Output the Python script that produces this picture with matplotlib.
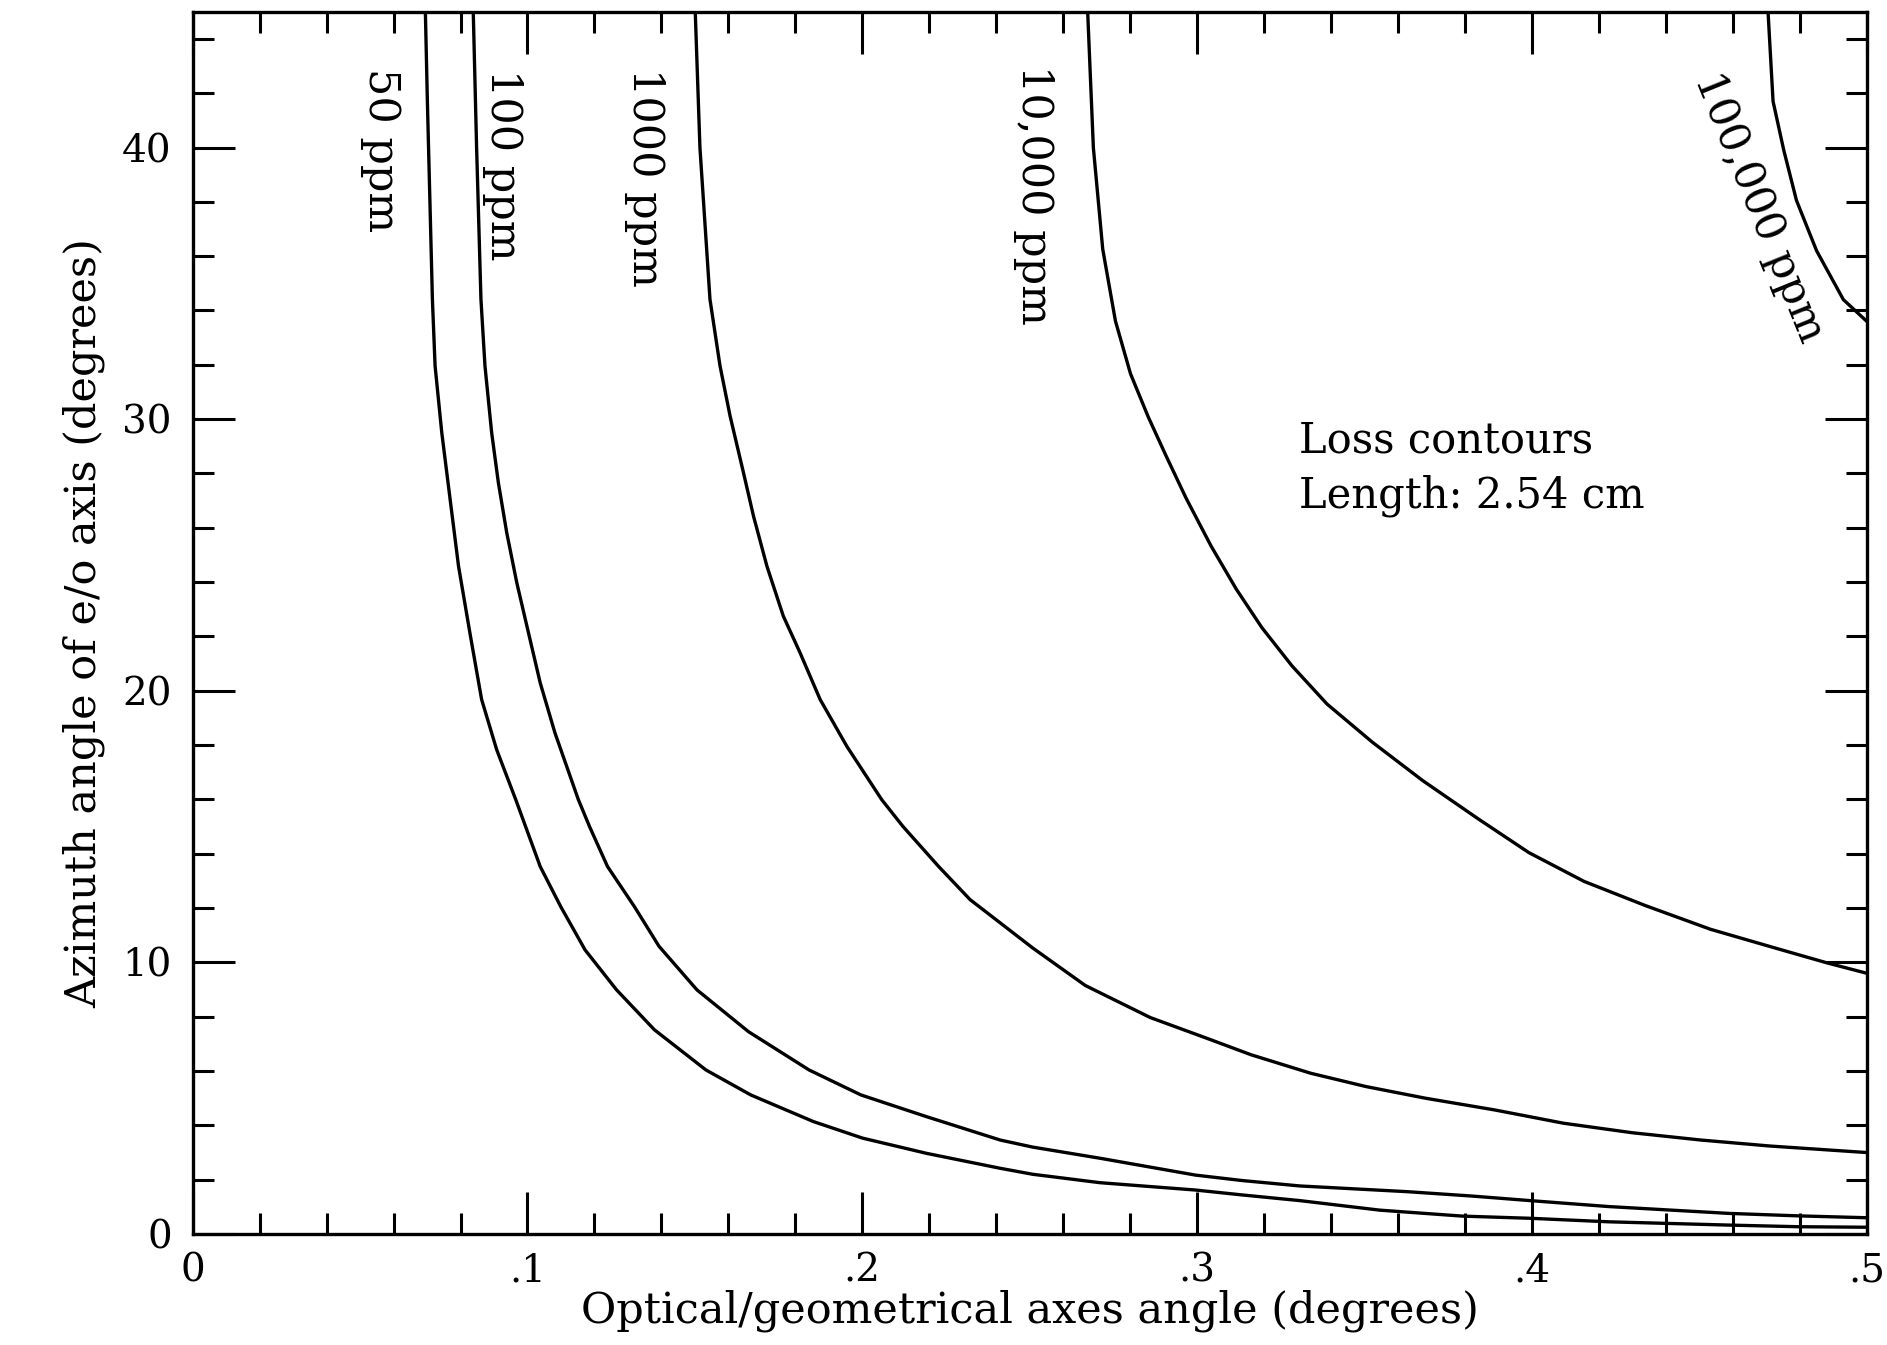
import matplotlib
matplotlib.use('Agg')
import matplotlib.pyplot as plt
from matplotlib.ticker import MultipleLocator, FixedLocator, FixedFormatter

plt.rcParams['font.family'] = ['DejaVu Serif']

# Loss contours: x = optical/geometrical angle, y = azimuth angle
x_50 = [0.0695, 0.0701, 0.0716, 0.0724, 0.0744, 0.0769, 0.0794, 0.0828, 0.0863, 0.0908,
        0.0965, 0.1038, 0.1099, 0.1172, 0.1266, 0.1379, 0.1533, 0.1667, 0.1854, 0.2001,
        0.2192, 0.2412, 0.2509, 0.2710, 0.2995, 0.3134, 0.3307, 0.3545, 0.3792, 0.3994,
        0.4230, 0.4587, 0.4793, 0.5]
y_50 = [45, 41.7, 34.41, 31.96, 29.50, 27.04, 24.59, 22.13, 19.68, 17.83,
        15.99, 13.53, 12.06, 10.46, 8.99, 7.52, 6.04, 5.12, 4.14, 3.53,
        2.97, 2.42, 2.20, 1.89, 1.62, 1.44, 1.23, 0.88, 0.66, 0.58,
        0.45, 0.33, 0.27, 0.25]

x_100 = [0.0838, 0.0848, 0.0861, 0.0873, 0.0893, 0.0913, 0.0938, 0.0968, 0.1003, 0.1038,
         0.1082, 0.1152, 0.1185, 0.1239, 0.1319, 0.1393, 0.1506, 0.1660, 0.1841, 0.1996,
         0.2192, 0.2412, 0.2509, 0.2710, 0.2995, 0.3134, 0.3307, 0.3627, 0.3819, 0.3995,
         0.4231, 0.4588, 0.4793, 0.5]
y_100 = [45, 40, 34.41, 31.96, 29.50, 27.66, 25.82, 23.98, 22.13, 20.29,
         18.45, 15.99, 15.01, 13.53, 12.06, 10.59, 8.99, 7.45, 6.04, 5.12,
         4.32, 3.46, 3.20, 2.79, 2.17, 1.97, 1.77, 1.56, 1.40, 1.23,
         1.01, 0.76, 0.67, 0.60]

x_1000 = [0.1501, 0.1515, 0.1545, 0.1575, 0.1605, 0.1645, 0.1675, 0.1715, 0.1764, 0.1814,
          0.1874, 0.1954, 0.2058, 0.2121, 0.2228, 0.2322, 0.2509, 0.2666, 0.2860, 0.3026,
          0.3161, 0.3339, 0.3504, 0.3682, 0.3888, 0.4094, 0.4299, 0.4505, 0.4711, 0.5]
y_1000 = [45, 40, 34.41, 31.96, 30.12, 28.03, 26.43, 24.59, 22.75, 21.40,
          19.68, 17.95, 15.99, 15.01, 13.53, 12.31, 10.53, 9.15, 7.97, 7.22,
          6.60, 5.92, 5.43, 5.00, 4.57, 4.08, 3.73, 3.46, 3.24, 3.00]

x_10k = [0.2673, 0.2690, 0.2718, 0.2756, 0.2801, 0.2854, 0.2906, 0.2967, 0.3042, 0.3117,
         0.3193, 0.3283, 0.3388, 0.3524, 0.3674, 0.3840, 0.3991, 0.4156, 0.4337, 0.4533,
         0.4729, 0.4879, 0.5]
y_10k = [45, 40, 36.26, 33.61, 31.67, 30.08, 28.68, 27.09, 25.32, 23.74,
         22.33, 20.92, 19.51, 18.10, 16.69, 15.28, 14.04, 12.98, 12.10, 11.22,
         10.52, 9.99, 9.6]

x_100k = [0.4705, 0.472, 0.4752, 0.479, 0.485, 0.493, 0.5]
y_100k = [45, 41.7, 39.9, 38.05, 36.2, 34.4, 33.6]

curves = [(x_50, y_50), (x_100, y_100), (x_1000, y_1000), (x_10k, y_10k), (x_100k, y_100k)]

# contour labels: text, x, y, rotation
label_text = ['50 ppm', '100 ppm', '1000 ppm', '10,000 ppm', '100,000 ppm']
label_x = [0.0561, 0.0927, 0.1351, 0.2513, 0.4680]
label_y = [39.9, 39.35, 38.89, 38.26, 37.79]
label_rot = [-90, -90, -90, -90, -68]

note_lines = ['Loss contours', 'Length: 2.54 cm']
note_y = [28.77, 26.74]

xtick_vals = [0, 0.1, 0.2, 0.3, 0.4, 0.5]
xtick_labels = ['0', '.1', '.2', '.3', '.4', '.5']
ytick_vals = [0, 10, 20, 30, 40]

fig = plt.figure(figsize=(18.87, 13.45), dpi=100)
ax = fig.add_axes([0.1021, 0.0825, 0.8872, 0.9088])

for cx, cy in curves:
    ax.plot(cx, cy, color='black', lw=2.4, solid_joinstyle='round')

for t, lx, ly, r in zip(label_text, label_x, label_y, label_rot):
    ax.text(lx, ly, t, rotation=r, rotation_mode='anchor', ha='center', va='center',
            fontsize=31)

for t, ny in zip(note_lines, note_y):
    ax.text(0.3303, ny, t, ha='left', va='baseline', fontsize=30)

ax.set_xlim(0, 0.5)
ax.set_ylim(0, 45)
ax.xaxis.set_major_locator(FixedLocator(xtick_vals))
ax.xaxis.set_major_formatter(FixedFormatter(xtick_labels))
ax.xaxis.set_minor_locator(MultipleLocator(0.02))
ax.yaxis.set_major_locator(FixedLocator(ytick_vals))
ax.yaxis.set_minor_locator(MultipleLocator(2))

ax.tick_params(which='both', direction='in', top=True, right=True, width=2.2,
               labelsize=28)
ax.tick_params(axis='x', which='both', pad=13)
ax.tick_params(axis='y', which='both', pad=15)
ax.tick_params(which='major', length=30)
ax.tick_params(which='minor', length=15)
for s in ax.spines.values():
    s.set_linewidth(2.4)

ax.set_xlabel('Optical/geometrical axes angle (degrees)', fontsize=31, labelpad=0)
ax.set_ylabel('Azimuth angle of e/o axis (degrees)', fontsize=31, labelpad=12)

fig.savefig('out.png', dpi=100)
